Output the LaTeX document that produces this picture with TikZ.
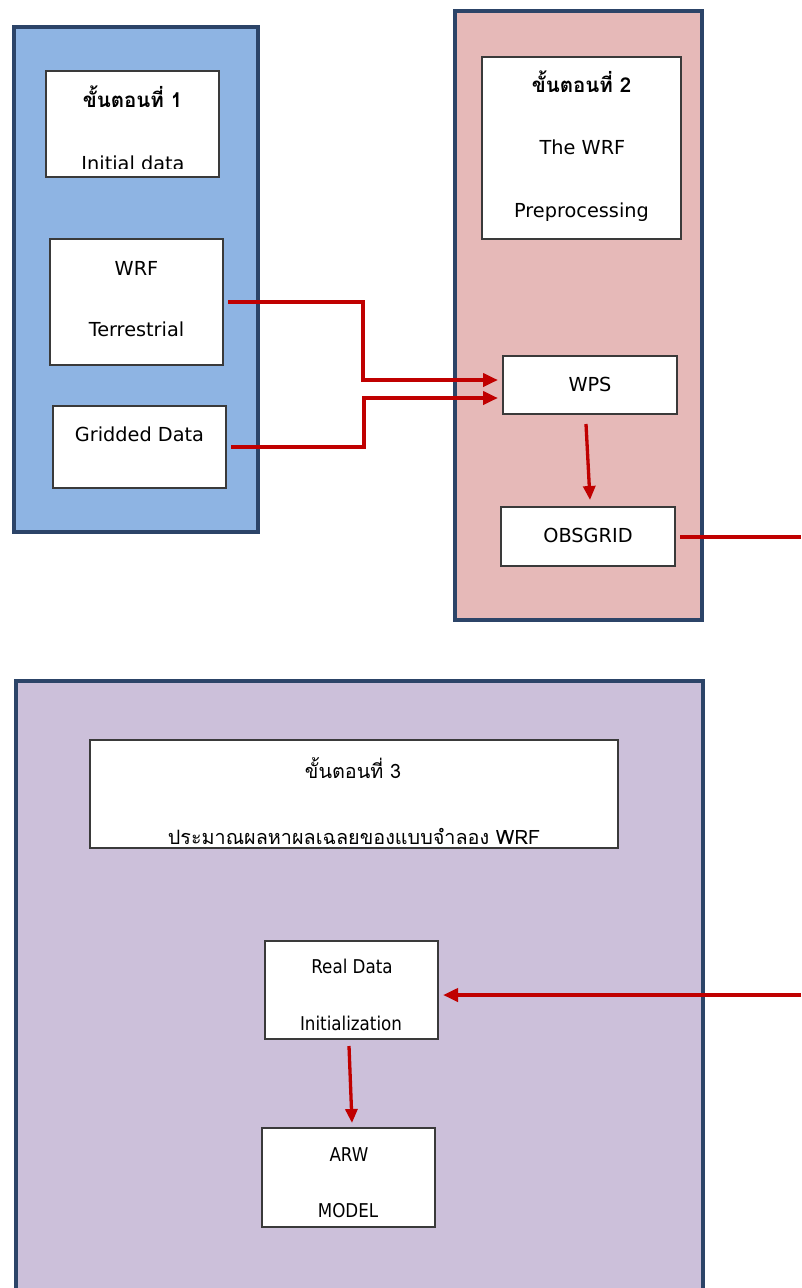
\documentclass[tikz,border=0pt]{standalone}
\usepackage{fontspec}
\setmainfont{DejaVu Sans}
\newfontfamily\thaifont[Script=Thai]{Loma}
\newfontfamily\condfont[FakeStretch=0.88]{DejaVu Sans}
\usetikzlibrary{arrows.meta}
\definecolor{panelblue}{HTML}{8EB4E3}
\definecolor{panelpink}{HTML}{E6B9B8}
\definecolor{panelpurple}{HTML}{CCC0DA}
\definecolor{paneledge}{HTML}{2C4468}
\definecolor{boxedge}{HTML}{3A3A3A}
\definecolor{flowred}{HTML}{C00000}
\tikzset{
  panelline/.style={draw=paneledge, line width=4pt},
  wbox/.style={draw=boxedge, fill=white, line width=1.5pt, inner sep=0pt, outer sep=0pt},
  lbl/.style={anchor=base, inner sep=0pt, font=\fontsize{19.3}{22}\selectfont},
  thaititle/.style={anchor=base, inner sep=0pt, font=\thaifont\bfseries\fontsize{20.5}{22}\selectfont},
  thaireg/.style={anchor=base, inner sep=0pt, font=\thaifont\fontsize{19.8}{22}\selectfont},
  condlbl/.style={anchor=base, inner sep=0pt, font=\condfont\fontsize{19}{22}\selectfont},
  flow/.style={draw=flowred, line width=4pt, -{Triangle[length=15pt,width=13pt]}},
  flowthin/.style={draw=flowred, line width=3.3pt, -{Triangle[length=14pt,width=12pt]}},
  plainflow/.style={draw=flowred, line width=4pt},
}
\begin{document}
\begin{tikzpicture}[x=1pt,y=-1pt]
\useasboundingbox (0,0) rectangle (801,1288);
% panels
\filldraw[fill=panelblue, panelline] (14,27) rectangle (258,532);
\filldraw[fill=panelpink, panelline] (455,11) rectangle (702,620);
\fill[panelpurple] (16,681) rectangle (703,1288);
\draw[panelline] (16,1290) -- (16,681) -- (703,681) -- (703,1290);

% boxes of panel 1
\node[wbox, minimum width=173pt, minimum height=106pt] (b1t) at (132.5,124) {};
\node[wbox, minimum width=173pt, minimum height=126pt] (b1w) at (136.5,302) {};
\node[wbox, minimum width=173pt, minimum height=82pt] (b1g) at (139.5,447) {};
% boxes of panel 2
\node[wbox, minimum width=199pt, minimum height=182pt] (b2t) at (581.5,148) {};
\node[wbox, minimum width=174pt, minimum height=58pt] (wps) at (590,385) {};
\node[wbox, minimum width=174pt, minimum height=59pt] (obs) at (588,536.5) {};
% boxes of panel 3
\node[wbox, minimum width=528pt, minimum height=108pt] (b3t) at (354,794) {};
\node[wbox, minimum width=173pt, minimum height=98pt] (rdi) at (351.5,990) {};
\node[wbox, minimum width=173pt, minimum height=99pt] (arw) at (348.5,1177.5) {};

% texts panel 1
\node[thaititle] (t1a) at (132.5,107) {ขั้นตอนที่ 1};
\begin{scope}
  \clip (46,71) rectangle (219,168.5);
  \node[lbl] (t1b) at (133,170.5) {Initial data};
\end{scope}
\node[lbl] (t1c) at (136.5,275.5) {WRF};
\node[lbl] (t1d) at (136.5,336) {Terrestrial};
\node[lbl] (t1e) at (139.5,441) {Gridded Data};
% texts panel 2
\node[thaititle] (t2a) at (581.5,92.5) {ขั้นตอนที่ 2};
\node[lbl] (t2b) at (582.5,154) {The WRF};
\node[lbl] (t2c) at (581.5,217) {Preprocessing};
\node[lbl] (t2d) at (590,391) {WPS};
\node[lbl] (t2e) at (588,542) {OBSGRID};
% texts panel 3
\node[thaireg] (t3a) at (353,778) {ขั้นตอนที่ 3};
\node[thaireg] (t3b) at (354,844) {ประมาณผลหาผลเฉลยของแบบจำลอง WRF};
\node[condlbl] (t3c) at (352,973) {Real Data};
\node[condlbl] (t3d) at (351,1030) {Initialization};
\node[condlbl] (t3e) at (349,1161) {ARW};
\node[condlbl] (t3f) at (348,1217) {MODEL};

% free ends at the right edge
\coordinate (outA) at (801,536.5);
\coordinate (outB) at (801,995);

% connectors
\draw[flow] ([xshift=5pt]b1w.east) -- ++(135,0) |- ([xshift=-5pt,yshift=5pt]wps.west);
\draw[flow] ([xshift=5pt]b1g.east) -- ++(133,0) |- ([xshift=-5pt,yshift=-13pt]wps.west);
\draw[flowthin] ([xshift=-4pt,yshift=-10pt]wps.south) -- ([xshift=2pt,yshift=7pt]obs.north);
\draw[plainflow] ([xshift=5pt]obs.east) -- (outA);
\draw[flow] (outB) -- ([xshift=5pt,yshift=-5pt]rdi.east);
\draw[flowthin] ([xshift=-2.5pt,yshift=-7pt]rdi.south) -- ([xshift=3.5pt,yshift=5pt]arw.north);
\end{tikzpicture}
\end{document}
